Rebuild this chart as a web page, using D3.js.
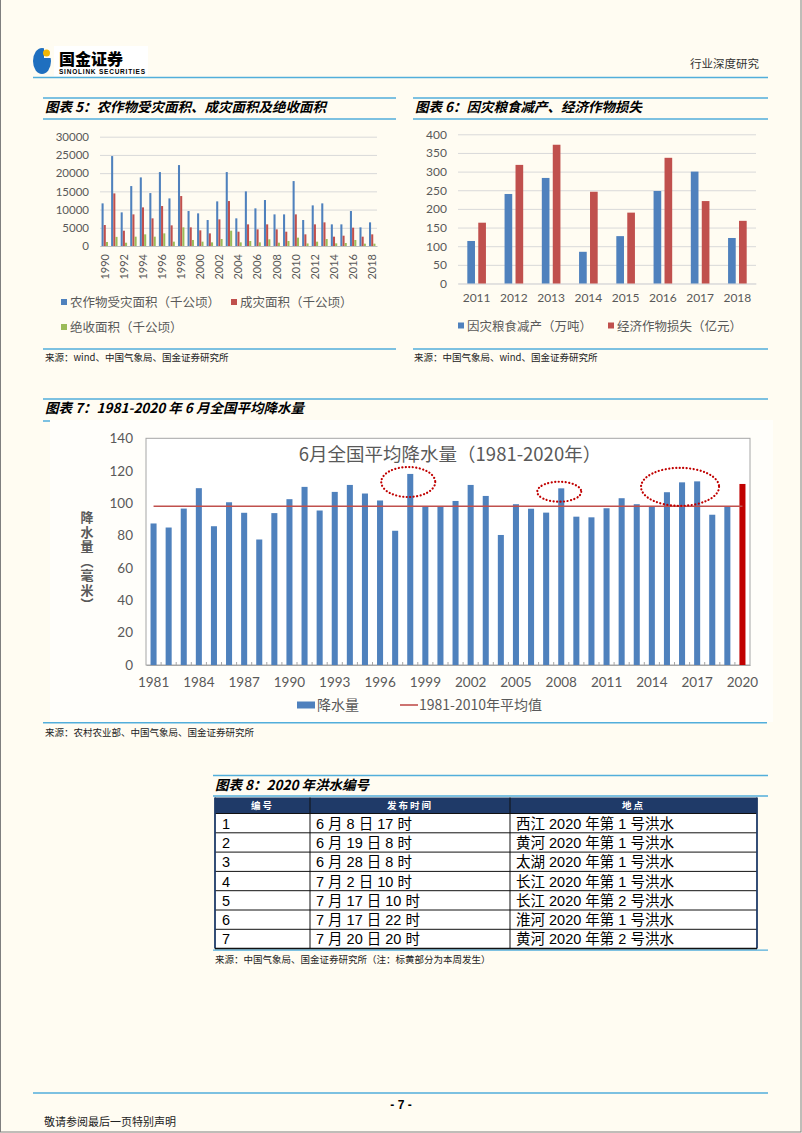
<!DOCTYPE html>
<html>
<head>
<meta charset="utf-8">
<script src="https://cdn.jsdelivr.net/npm/d3@7"></script>
<style>
  html, body { margin: 0; padding: 0; background: #fffcf2; }
  svg { display: block; }
</style>
</head>
<body>
<svg id="page" width="802" height="1133"></svg>
<script>
// ---- data: chart 5 (千公顷) ----
const years5 = [1990,1991,1992,1993,1994,1995,1996,1997,1998,1999,2000,2001,2002,2003,2004,
                2005,2006,2007,2008,2009,2010,2011,2012,2013,2014,2015,2016,2017,2018];
const affected5 = [11700,24680,9230,16450,18830,14530,20290,13070,22210,9600,8960,7130,12250,20290,7590,
                   14990,10330,12620,8680,8680,17820,7130,11150,11700,5940,5940,9600,5120,6490];
const damaged5  = [5760,14440,4200,8680,10600,7590,10970,5670,13710,5120,4300,3470,7310,12340,3930,
                   5940,4570,5940,4570,3930,8680,3200,5940,6490,2560,2830,5030,2560,3200];
const lost5     = [1100,2500,900,2560,3200,2560,3470,1190,5120,1650,1190,1000,1920,4200,1000,
                   1370,1000,1830,910,1370,2290,700,1190,1920,730,820,1650,640,640];
const labels5 = ["农作物受灾面积（千公顷）", "成灾面积（千公顷）", "绝收面积（千公顷）"];
const ticks5 = [0,5000,10000,15000,20000,25000,30000];

// ---- data: chart 6 ----
const years6 = [2011,2012,2013,2014,2015,2016,2017,2018];
const grain6 = [114,240,283,85,127,248,300,122];
const crop6  = [163,318,372,246,190,337,221,168];
const labels6 = ["因灾粮食减产（万吨）", "经济作物损失（亿元）"];
const ticks6 = [0,50,100,150,200,250,300,350,400];

// ---- data: chart 7 (毫米) ----
const years7 = [1981,1982,1983,1984,1985,1986,1987,1988,1989,1990,1991,1992,1993,1994,1995,1996,1997,1998,1999,2000,
                2001,2002,2003,2004,2005,2006,2007,2008,2009,2010,2011,2012,2013,2014,2015,2016,2017,2018,2019,2020];
const rain7 = [87.4,84.9,96.6,109.2,85.7,100.5,94.0,77.5,93.8,102.4,110.0,95.4,106.9,111.2,105.9,101.6,82.9,118.0,98.2,97.8,
               101.3,111.2,104.4,80.3,99.3,96.5,94.1,109.1,91.6,91.2,96.8,103.0,99.3,98.2,106.7,112.8,113.4,92.8,98.2,111.8];
const avg7 = 98;
const ticks7 = [0,20,40,60,80,100,120,140];
const xlabels7 = [1981,1984,1987,1990,1993,1996,1999,2002,2005,2008,2011,2014,2017,2020];
const ytitle7 = "降水量︵毫米︶";
const circled7 = [ {year: 1998, value: 113, rx: 27, ry: 15},
                   {year: 2008, value: 107, rx: 22, ry: 10},
                   {year: 2016, value: 110, rx: 39, ry: 19} ];

// ---- data: table 8 ----
const tableHead8 = ["编号", "发布时间", "地点"];
const floodNo8 = ["1","2","3","4","5","6","7"];
const floodTime8 = ["6 月 8 日 17 时","6 月 19 日 8 时","6 月 28 日 8 时","7 月 2 日 10 时",
                    "7 月 17 日 10 时","7 月 17 日 22 时","7 月 20 日 20 时"];
const floodPlace8 = ["西江 2020 年第 1 号洪水","黄河 2020 年第 1 号洪水","太湖 2020 年第 1 号洪水",
                     "长江 2020 年第 1 号洪水","长江 2020 年第 2 号洪水","淮河 2020 年第 1 号洪水",
                     "黄河 2020 年第 2 号洪水"];

const svg = d3.select("#page");
const CJK = '"Noto Sans CJK SC", sans-serif';
const NUM = 'Lato, "Noto Sans CJK SC", sans-serif';
const ARIAL = '"Liberation Sans", "Noto Sans CJK SC", sans-serif';
const LINE = "#52aedb";
const BLUE = "#4f81bd", RED = "#c0504d", GREEN = "#9bbb59";
const GREY = "#595959";

// page frame
svg.append("rect")
  .attr("x", 0.5).attr("y", -2).attr("width", 800.5).attr("height", 1134)
  .attr("fill", "#fffcf2").attr("stroke", "#7f7f7f");

function hline(x1, x2, y, color, w) {
  svg.append("line")
    .attr("x1", x1).attr("x2", x2).attr("y1", y).attr("y2", y)
    .attr("stroke", color).attr("stroke-width", w);
}

function text(x, y, str, size, opts = {}) {
  return svg.append("text")
    .attr("x", x).attr("y", y)
    .attr("font-family", opts.family || CJK)
    .attr("font-size", size)
    .attr("font-weight", opts.weight || "normal")
    .attr("font-style", opts.style || "normal")
    .attr("fill", opts.fill || "#000")
    .attr("text-anchor", opts.anchor || "start")
    .text(str);
}

// ---- page header ----
svg.append("rect").attr("x", 54).attr("y", 46).attr("width", 94).attr("height", 30).attr("fill", "#fff");
svg.append("ellipse").attr("cx", 42).attr("cy", 61).attr("rx", 9).attr("ry", 13).attr("fill", "#1f6fbf");
svg.append("rect").attr("x", 44).attr("y", 48).attr("width", 8).attr("height", 10).attr("fill", "#fffcf2");
svg.append("circle").attr("cx", 46.5).attr("cy", 53).attr("r", 3.5).attr("fill", "#f2b705");
text(59, 65, "国金证券", 16, {weight: 900});
text(59, 74, "SINOLINK SECURITIES", 6.5, {weight: "bold", family: ARIAL}).attr("textLength", 86);
text(690, 68, "行业深度研究", 11.5, {fill: "#333"});
hline(33, 768, 77.5, LINE, 1.6);

// section title bars
function section(x1, x2, yTop, yBot, title) {
  hline(x1, x2, yTop, LINE, 1.5);
  hline(x1, x2, yBot, LINE, 1.5);
  text(x1 + 2, yTop + 14, title, 13.5, {weight: "bold", style: "italic"});
}

// ================= chart 5 =================
section(43, 396, 98, 119, "图表 5：农作物受灾面积、成灾面积及绝收面积");

const x5 = d3.scaleBand().domain(years5).range([100, 377]).paddingInner(0.3).paddingOuter(0.15);
const xs5 = d3.scaleBand().domain([0, 1, 2]).range([0, x5.bandwidth()]).padding(0.06);
const y5 = d3.scaleLinear().domain([0, 30000]).range([246, 136.7]);

const ax5 = svg.append("g").attr("transform", "translate(100,0)")
  .call(d3.axisLeft(y5).tickValues(ticks5).tickFormat(d3.format("d")).tickSize(-277).tickPadding(11));
ax5.select(".domain").remove();
ax5.selectAll("line").attr("stroke", "#d9d9d9");
ax5.selectAll("text").attr("font-family", NUM).attr("font-size", 11.5).attr("fill", GREY);

const bx5 = svg.append("g").attr("transform", "translate(0,246)")
  .call(d3.axisBottom(x5).tickValues(years5.filter(y => y % 2 === 0)).tickSize(0).tickSizeOuter(0));
bx5.select(".domain").attr("stroke", "#bfbfbf");
bx5.selectAll("text")
  .attr("transform", "rotate(-90)")
  .attr("text-anchor", "end")
  .attr("x", -8).attr("y", 0).attr("dy", "0.35em")
  .attr("font-family", NUM).attr("font-size", 11).attr("fill", GREY);

[affected5, damaged5, lost5].forEach((series, k) => {
  svg.append("g").selectAll("rect")
    .data(series)
    .join("rect")
    .attr("x", (d, i) => x5(years5[i]) + xs5(k))
    .attr("width", xs5.bandwidth())
    .attr("y", d => y5(d))
    .attr("height", d => y5(0) - y5(d))
    .attr("fill", [BLUE, RED, GREEN][k]);
});

// legend 5
const leg5 = [{x: 61, y: 302}, {x: 231, y: 302}, {x: 61, y: 327}];
labels5.forEach((lab, k) => {
  svg.append("rect").attr("x", leg5[k].x).attr("y", leg5[k].y - 3).attr("width", 6).attr("height", 6)
    .attr("fill", [BLUE, RED, GREEN][k]);
  text(leg5[k].x + 9, leg5[k].y + 4.5, lab, 12.5, {fill: GREY});
});

hline(43, 396, 349, LINE, 1.5);
text(45, 361, "来源：wind、中国气象局、国金证券研究所", 9.5, {fill: "#222"});

// ================= chart 6 =================
section(413, 768, 98, 119, "图表 6：因灾粮食减产、经济作物损失");

const x6 = d3.scaleBand().domain(years6).range([458, 756]).paddingInner(0.5).paddingOuter(0.25);
const xs6 = d3.scaleBand().domain([0, 1]).range([0, x6.bandwidth()]).paddingInner(0.3);
const y6 = d3.scaleLinear().domain([0, 400]).range([283.5, 134.3]);

const ax6 = svg.append("g").attr("transform", "translate(458,0)")
  .call(d3.axisLeft(y6).tickValues(ticks6).tickSize(-298).tickPadding(11));
ax6.select(".domain").remove();
ax6.selectAll("line").attr("stroke", "#d9d9d9");
ax6.selectAll("text").attr("font-family", NUM).attr("font-size", 12).attr("fill", GREY);

const bx6 = svg.append("g").attr("transform", "translate(0,283.5)")
  .call(d3.axisBottom(x6).tickSize(0).tickSizeOuter(0).tickPadding(10));
bx6.select(".domain").attr("stroke", "#d9d9d9");
bx6.selectAll("text").attr("font-family", NUM).attr("font-size", 12).attr("fill", GREY);

[grain6, crop6].forEach((series, k) => {
  svg.append("g").selectAll("rect")
    .data(series)
    .join("rect")
    .attr("x", (d, i) => x6(years6[i]) + xs6(k))
    .attr("width", xs6.bandwidth())
    .attr("y", d => y6(d))
    .attr("height", d => y6(0) - y6(d))
    .attr("fill", [BLUE, RED][k]);
});

const leg6 = [{x: 458, y: 326}, {x: 608, y: 326}];
labels6.forEach((lab, k) => {
  svg.append("rect").attr("x", leg6[k].x).attr("y", leg6[k].y - 3.5).attr("width", 6).attr("height", 6)
    .attr("fill", [BLUE, RED][k]);
  text(leg6[k].x + 9, leg6[k].y + 4.5, lab, 12.5, {fill: GREY});
});

hline(413, 768, 349, LINE, 1.5);
text(414, 361, "来源：中国气象局、wind、国金证券研究所", 9.5, {fill: "#222"});

// ================= chart 7 =================
section(43, 768, 399, 421, "图表 7：1981-2020 年 6 月全国平均降水量");

// picture panel
svg.append("rect").attr("x", 50).attr("y", 420).attr("width", 723).attr("height", 302).attr("fill", "#fffefa");

const x7 = d3.scaleBand().domain(years7).range([146, 750]).paddingInner(0.6).paddingOuter(0.3);
const y7 = d3.scaleLinear().domain([0, 140]).range([665, 438.3]);

svg.append("rect").attr("x", 146).attr("y", y7(140)).attr("width", 604).attr("height", y7(0) - y7(140))
  .attr("fill", "#fff").attr("stroke", "#a6a6a6").attr("stroke-width", 1);

text(450, 461, "6月全国平均降水量（1981-2020年）", 18.5, {fill: GREY, anchor: "middle"});

const ax7 = svg.append("g").attr("transform", "translate(146,0)")
  .call(d3.axisLeft(y7).tickValues(ticks7).tickSize(0).tickPadding(13));
ax7.select(".domain").remove();
ax7.selectAll("text").attr("font-family", NUM).attr("font-size", 13.5).attr("fill", GREY);

const bx7 = svg.append("g").attr("transform", "translate(0,665)")
  .call(d3.axisBottom(x7).tickValues(xlabels7).tickSize(0).tickSizeOuter(0).tickPadding(12));
bx7.select(".domain").attr("stroke", "#a6a6a6");
bx7.selectAll("text").attr("font-family", NUM).attr("font-size", 13.5).attr("fill", GREY);

// small category ticks between bars
svg.append("g").selectAll("line")
  .data(years7.slice(1))
  .join("line")
  .attr("x1", d => x7(d) - x7.step() * x7.paddingInner() / 2)
  .attr("x2", d => x7(d) - x7.step() * x7.paddingInner() / 2)
  .attr("y1", y7(0)).attr("y2", y7(0) - 3)
  .attr("stroke", "#a6a6a6");

svg.append("g").selectAll("rect")
  .data(rain7)
  .join("rect")
  .attr("x", (d, i) => x7(years7[i]))
  .attr("width", x7.bandwidth())
  .attr("y", d => y7(d))
  .attr("height", d => y7(0) - y7(d))
  .attr("fill", (d, i) => years7[i] === 2020 ? "#c00000" : BLUE);

svg.append("line")
  .attr("x1", x7(years7[0]) + x7.bandwidth() / 2)
  .attr("x2", x7(years7[years7.length - 1]) + x7.bandwidth() / 2)
  .attr("y1", y7(avg7)).attr("y2", y7(avg7))
  .attr("stroke", RED).attr("stroke-width", 1.6);

svg.append("g").selectAll("ellipse")
  .data(circled7)
  .join("ellipse")
  .attr("cx", d => x7(d.year) + x7.bandwidth() / 2 - 2)
  .attr("cy", d => y7(d.value))
  .attr("rx", d => d.rx).attr("ry", d => d.ry)
  .attr("fill", "none").attr("stroke", "#c00000").attr("stroke-width", 2.2)
  .attr("stroke-linecap", "round").attr("stroke-dasharray", "0.1 3.4");

// y title, written vertically
svg.append("text")
  .attr("x", 87).attr("y", 511)
  .attr("font-family", CJK).attr("font-size", 13).attr("font-weight", "bold").attr("fill", GREY)
  .style("writing-mode", "vertical-rl")
  .style("text-orientation", "upright")
  .attr("letter-spacing", 1.5)
  .text(ytitle7);

// legend 7
svg.append("rect").attr("x", 297).attr("y", 701.5).attr("width", 18).attr("height", 7).attr("fill", BLUE);
text(317, 710, "降水量", 14, {fill: GREY});
svg.append("line").attr("x1", 400).attr("x2", 418).attr("y1", 705).attr("y2", 705)
  .attr("stroke", RED).attr("stroke-width", 1.6);
text(419, 710, "1981-2010年平均值", 14, {fill: GREY});

hline(43, 767, 722.7, LINE, 1.5);
text(45, 736, "来源：农村农业部、中国气象局、国金证券研究所", 9.5, {fill: "#222"});

// ================= table 8 =================
section(213, 768, 775.5, 796, "图表 8：2020 年洪水编号");

const cols8 = [215, 310, 510, 757];
const top8 = 797.5, headH8 = 16, rowH8 = 19.3;
const bottom8 = top8 + headH8 + rowH8 * floodNo8.length;

svg.append("rect").attr("x", cols8[0]).attr("y", top8).attr("width", cols8[3] - cols8[0]).attr("height", headH8)
  .attr("fill", "#1f3a68");
svg.append("rect").attr("x", cols8[0]).attr("y", top8 + headH8).attr("width", cols8[3] - cols8[0])
  .attr("height", rowH8 * floodNo8.length).attr("fill", "#fff");

tableHead8.forEach((h, c) => {
  text((cols8[c] + cols8[c + 1]) / 2, top8 + 11.5, h, 9.5, {fill: "#fff", weight: "bold", anchor: "middle"})
    .attr("letter-spacing", 2);
});

const rows8 = floodNo8.map((n, i) => [n, floodTime8[i], floodPlace8[i]]);
rows8.forEach((row, r) => {
  const yMid = top8 + headH8 + rowH8 * r + rowH8 / 2;
  row.forEach((cell, c) => {
    text(cols8[c] + (c === 0 ? 7 : 6), yMid + 5.5, cell, 14.5, {family: ARIAL});
  });
  svg.append("line").attr("x1", cols8[0]).attr("x2", cols8[3])
    .attr("y1", top8 + headH8 + rowH8 * r).attr("y2", top8 + headH8 + rowH8 * r)
    .attr("stroke", "#111").attr("stroke-width", 1);
});
cols8.forEach((cx, c) => {
  svg.append("line").attr("x1", cx).attr("x2", cx)
    .attr("y1", top8).attr("y2", bottom8)
    .attr("stroke", c === 0 || c === 3 ? "#1f3a68" : "#111")
    .attr("stroke-width", c === 0 || c === 3 ? 1.8 : 1);
});
hline(cols8[0], cols8[3], bottom8, "#111", 1.8);
hline(213, 768, bottom8 + 1.5, LINE, 1.3);
text(215, 963, "来源：中国气象局、国金证券研究所（注：标黄部分为本周发生）", 9.5, {fill: "#222"});

// ---- footer ----
hline(33, 768, 1093, LINE, 1.6);
text(401, 1109, "- 7 -", 12, {weight: "bold", family: ARIAL, anchor: "middle"});
text(44, 1126, "敬请参阅最后一页特别声明", 11, {fill: "#222"});
</script>
</body>
</html>
